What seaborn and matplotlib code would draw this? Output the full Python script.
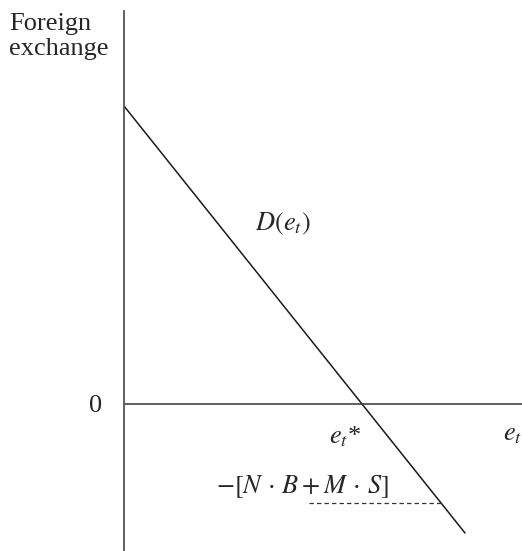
import matplotlib
matplotlib.use("Agg")
import matplotlib.pyplot as plt
import seaborn as sns
import pandas as pd

# Demand for foreign exchange as a function of the exchange rate
e_vals = [0.0, 3.41]
demand_vals = [2.98, -1.29]
e_star = 2.38
obligation_level = -0.99
obligation_start = 1.85

sns.set_style("white")
plt.rcParams["font.family"] = ["Liberation Serif", "DejaVu Serif"]
plt.rcParams["mathtext.fontset"] = "stix"

W, H = 522, 551
fig = plt.figure(figsize=(W / 100, H / 100), dpi=100)
ax = fig.add_axes([124 / W, 0.0, 398 / W, 540 / H])
ax.set_xlim(0, 3.98)
ax.set_ylim(-1.47, 3.93)

df = pd.DataFrame({"e": e_vals, "D": demand_vals})
sns.lineplot(data=df, x="e", y="D", ax=ax, color="#1a1a1a", linewidth=1.1)

# horizontal axis at zero
ax.axhline(0, color="#333333", linewidth=1.1)

# obligation level: demand at the dashed line
slope = (demand_vals[1] - demand_vals[0]) / (e_vals[1] - e_vals[0])
e_obl = (obligation_level - demand_vals[0]) / slope
ax.plot([obligation_start, e_obl], [obligation_level, obligation_level],
        color="#333333", linewidth=0.9, linestyle=(0, (3.5, 2.5)))

for s in ["top", "right", "bottom"]:
    ax.spines[s].set_visible(False)
ax.spines["left"].set_color("#555555")
ax.spines["left"].set_linewidth(1.3)
ax.set_xticks([])
ax.set_yticks([])
ax.set_xlabel("")
ax.set_ylabel("")

fs = 19
fig.text(9 / W, 1 - 13 / H, "Foreign\nexchange", ha="left", va="top",
         fontsize=fs, linespacing=1.2)
ax.text(-0.28, -0.02, "0", ha="center", va="center", fontsize=fs)
ax.text(e_star - 0.17, -0.33, r"$e_t$*", ha="center", va="center", fontsize=fs)
ax.text(3.89, -0.31, r"$e_t$", ha="center", va="center", fontsize=fs)
ax.text(1.59, 1.80, r"$D(e_t)$", ha="center", va="center", fontsize=fs)
ax.text(1.78, -0.83, r"$-[N\,\cdot\,B + M\,\cdot\,S]$", ha="center",
        va="center", fontsize=fs)

fig.savefig("out.png", dpi=100)
